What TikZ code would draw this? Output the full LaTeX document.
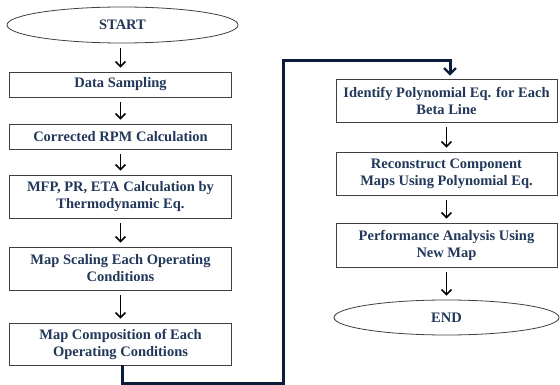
\documentclass[tikz,border=0pt]{standalone}
\usepackage{fontspec}
\setmainfont{Liberation Serif}
\usetikzlibrary{shapes.geometric,arrows.meta}
\definecolor{txtblue}{HTML}{22385A}
\definecolor{navy}{HTML}{0B1C38}
\begin{document}
\begin{tikzpicture}[x=1pt,y=-1pt,
  stepbox/.style={draw=black!75,line width=0.8pt,fill=white,minimum width=222pt,
    align=center,text=txtblue,font=\fontsize{14.5}{17}\selectfont\bfseries,inner sep=0pt},
  termbox/.style={ellipse,draw=black!75,line width=0.8pt,fill=white,
    text=txtblue,font=\fontsize{14.5}{17}\selectfont\bfseries,inner sep=0pt},
  flowarrow/.style={-{Straight Barb[length=5pt,width=10pt,line width=1.5pt]},line width=1.5pt,black,
    shorten <=5pt,shorten >=4pt},
  bigline/.style={line width=3pt,navy,-{Straight Barb[length=6pt,width=12pt,line width=2.2pt]}}
]
\useasboundingbox (0,0) rectangle (560,385);
\node[termbox,minimum width=231pt,minimum height=36pt] (start) at (122.5,25) {START};
\node[stepbox,minimum height=25pt] (data) at (120.5,84.5) {Data Sampling};
\node[stepbox,minimum height=25pt] (rpm) at (120.5,136.5) {Corrected RPM Calculation};
\node[stepbox,minimum height=43pt] (mfp) at (120.5,196.5) {MFP, PR, ETA Calculation by\\Thermodynamic Eq.};
\node[stepbox,minimum height=43pt] (scal) at (120.5,268.5) {Map Scaling Each Operating\\Conditions};
\node[stepbox,minimum height=42pt] (comp) at (120.5,344) {Map Composition of Each\\Operating Conditions};
\node[stepbox,minimum width=221pt,minimum height=43pt] (ident) at (446.5,100.5) {Identify Polynomial Eq. for Each\\Beta Line};
\node[stepbox,minimum width=221pt,minimum height=43pt] (recon) at (446.5,173.5) {Reconstruct Component\\Maps Using Polynomial Eq.};
\node[stepbox,minimum width=221pt,minimum height=44pt] (perf) at (446.5,245) {Performance Analysis Using\\New Map};
\node[termbox,minimum width=225pt,minimum height=35pt] (end) at (446.5,317.5) {END};
\coordinate (c1) at (122,383);
\coordinate (c2) at (283,383);
\coordinate (c3) at (283,61);
\coordinate (c4) at (450,61);
\draw[flowarrow] (start.south -| data.north) -- (data.north);
\draw[flowarrow] (data) -- (rpm);
\draw[flowarrow] (rpm) -- (mfp);
\draw[flowarrow] (mfp) -- (scal);
\draw[flowarrow] (scal) -- (comp);
\draw[flowarrow] (ident) -- (recon);
\draw[flowarrow] (recon) -- (perf);
\draw[flowarrow] (perf.south) -- (end.north);
\draw[bigline] (comp.south -| c1) -- (c1) -- (c2) -- (c3) -- (c4) -- ([yshift=3pt]ident.north -| c4);
\end{tikzpicture}
\end{document}
